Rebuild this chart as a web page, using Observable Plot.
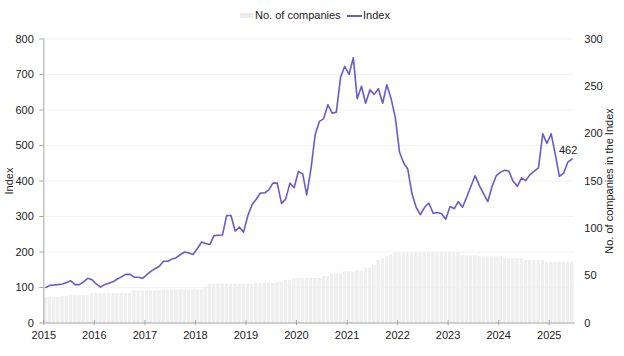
<!DOCTYPE html>
<html>
<head>
<meta charset="utf-8">
<script src="https://cdn.jsdelivr.net/npm/d3@7"></script>
<script src="https://cdn.jsdelivr.net/npm/@observablehq/plot@0.6"></script>
<style>
  html, body { margin: 0; padding: 0; background: #fff; }
  body { font-family: "Liberation Sans", Arial, sans-serif; color: #222; width: 624px; height: 356px; overflow: hidden; }
  #legend { position: relative; height: 30px; font-size: 11px; }
  #legend .sw { position: absolute; }
  #legend .lb { position: absolute; top: 10px; line-height: 11px; white-space: nowrap; color: #222; }
  #chart svg { display: block; }
</style>
</head>
<body>
<div id="legend">
  <div class="sw" style="left:240px; top:13px; width:13px; height:5px; background:#ececec;"></div>
  <div class="lb" style="left:255px;">No. of companies</div>
  <div class="sw" style="left:347px; top:15px; width:15px; height:1.5px; background:#6a5acd;"></div>
  <div class="lb" style="left:363px;">Index</div>
</div>
<div id="chart"></div>
<script>
// Monthly series, January 2015 to June 2025
const startYear = 2015;
const indexValues = [
  100,106,107,108,110,114,119,108,108,116,126,122,
  110,101,108,112,116,124,130,137,137,129,129,126,
  136,146,153,160,174,174,180,184,193,200,197,193,
  210,228,224,221,246,247,248,303,303,259,270,256,
  303,334,348,366,366,375,394,394,337,349,394,381,
  427,420,361,435,530,568,575,615,591,594,692,723,
  700,747,632,667,619,657,644,660,619,671,632,580,
  481,450,434,364,326,305,326,338,309,311,308,292,
  328,322,342,326,354,385,415,387,364,342,385,415,
  425,430,428,399,385,409,401,418,428,437,533,506,
  533,472,413,422,453,462
];
const companyCounts = [
  27,27,27,27,28,28,29,29,29,29,29,31,
  31,31,31,31,31,31,31,31,31,34,34,34,
  34,34,34,34,35,35,35,35,35,35,35,35,
  35,35,38,41,41,41,41,41,41,41,41,41,
  41,41,42,42,42,42,42,43,43,45,45,47,
  47,47,47,47,47,47,49,49,52,52,52,54,
  54,54,55,55,58,58,61,66,68,70,72,74,
  74,74,74,74,74,74,74,74,74,74,74,74,
  74,74,74,71,71,71,71,70,70,70,70,70,
  70,68,68,68,68,68,66,66,66,66,66,64,
  64,64,64,64,64,64
];
const yearTicks = [2015,2016,2017,2018,2019,2020,2021,2022,2023,2024,2025];
const leftTicks = [0,100,200,300,400,500,600,700,800];
const rightTicks = [0,50,100,150,200,250,300];
const leftLabel = "Index";
const rightLabel = "No. of companies in the Index";

const leftMax = 800, rightMax = 300;
const k = leftMax / rightMax; // secondary axis mapping

const rows = indexValues.map((v, i) => ({
  date: new Date(Date.UTC(startYear, i, 15)),
  start: new Date(Date.UTC(startYear, i, 1)),
  end: new Date(Date.UTC(startYear, i + 1, 1)),
  index: v,
  companies: companyCounts[i]
}));
const xDomain = [rows[0].start, rows[rows.length - 1].end];
const yearDates = yearTicks.map(y => new Date(Date.UTC(y, 0, 1)));
const last = rows[rows.length - 1];

const chart = Plot.plot({
  width: 624,
  height: 326,
  marginLeft: 43.3,
  marginRight: 50.2,
  marginTop: 8.5,
  marginBottom: 33.5,
  style: { fontFamily: "'Liberation Sans', Arial, sans-serif", fontSize: "11px", color: "#222", background: "#fff", overflow: "visible" },
  x: { type: "utc", domain: xDomain },
  y: { domain: [0, leftMax] },
  marks: [
    Plot.gridY(leftTicks, { stroke: "#f2f2f2", strokeOpacity: 1 }),
    Plot.rectY(rows, { x1: "start", x2: "end", y: d => d.companies * k, fill: "#efefef", insetLeft: 0.4, insetRight: 0.4 }),
    Plot.frame({ anchor: "left", stroke: "#a6a6a6" }),
    Plot.frame({ anchor: "bottom", stroke: "#a6a6a6" }),
    Plot.axisY(leftTicks, { anchor: "left", tickSize: 4, tickPadding: 6, stroke: "#a6a6a6", fill: "#222", label: null }),
    Plot.axisY(rightTicks.map(v => v * k), { anchor: "right", tickSize: 0, tickPadding: 10, fill: "#222", tickFormat: d => String(Math.round(d / k)), label: null }),
    Plot.axisX(yearDates, { anchor: "bottom", tickSize: 5, dy: -2.5, stroke: "#a6a6a6", tickFormat: () => "", label: null }),
    Plot.axisX(yearDates, { anchor: "bottom", tickSize: 0, tickPadding: 8, fill: "#222", tickFormat: d => String(d.getUTCFullYear()), label: null }),
    Plot.line(rows, { x: "date", y: "index", stroke: "#6a5acd", strokeWidth: 1.6 }),
    Plot.text([last], { x: "date", y: "index", text: d => String(d.index), dx: -4, dy: -8.5, textAnchor: "middle", lineAnchor: "middle", fill: "#222", fontSize: 11 }),
    Plot.text([leftLabel], { frameAnchor: "left", rotate: -90, dx: -34, textAnchor: "middle", lineAnchor: "middle", fill: "#222", fontSize: 11 }),
    Plot.text([rightLabel], { frameAnchor: "right", rotate: -90, dx: 35.5, textAnchor: "middle", lineAnchor: "middle", fill: "#222", fontSize: 11 })
  ]
});
document.getElementById("chart").appendChild(chart);
</script>
</body>
</html>
